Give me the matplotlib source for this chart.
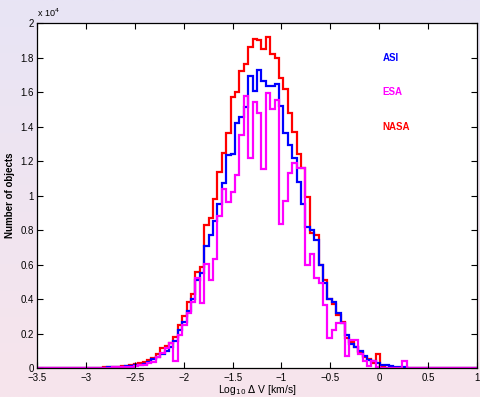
import numpy as np
import matplotlib
matplotlib.use("Agg")
import matplotlib.pyplot as plt
from matplotlib.colors import LinearSegmentedColormap

plt.rcParams['font.family'] = ['Liberation Sans', 'DejaVu Sans']

# 100 bins of log10(dV) between -3.5 and 1
edges = np.linspace(-3.5, 1.0, 101)

# counts per bin, in units of 1e4 objects
asi = [0, 0, 0, 0, 0, 0, 0, 0, 0, 0,
       0.001, 0.001, 0.002, 0.002, 0.003, 0.003, 0.004, 0.005, 0.006, 0.008,
       0.010, 0.012, 0.015, 0.020, 0.025, 0.035, 0.050, 0.065, 0.080, 0.096,
       0.119, 0.157, 0.220, 0.265, 0.330, 0.403, 0.510, 0.553, 0.710, 0.770,
       0.850, 0.950, 1.070, 1.233, 1.240, 1.418, 1.456, 1.514, 1.690, 1.605,
       1.726, 1.664, 1.634, 1.634, 1.648, 1.520, 1.360, 1.290, 1.220, 1.076,
       0.950, 0.816, 0.800, 0.740, 0.600, 0.490, 0.400, 0.380, 0.320, 0.260,
       0.190, 0.140, 0.120, 0.096, 0.070, 0.048, 0.040, 0.030, 0.020, 0.015,
       0.010, 0.008, 0.005, 0.004, 0.003, 0.002, 0.001, 0, 0, 0,
       0, 0, 0, 0, 0, 0, 0, 0, 0, 0]

esa = [0.001, 0.001, 0.001, 0.001, 0.001, 0.001, 0.001, 0.001, 0.001, 0.001,
       0.001, 0.001, 0.002, 0.002, 0.002, 0.003, 0.003, 0.004, 0.004, 0.005,
       0.005, 0.008, 0.010, 0.015, 0.020, 0.030, 0.035, 0.063, 0.086, 0.115,
       0.144, 0.038, 0.190, 0.250, 0.317, 0.384, 0.520, 0.375, 0.605, 0.510,
       0.634, 0.880, 1.040, 0.960, 1.020, 1.120, 1.349, 1.575, 1.220, 1.540,
       1.480, 1.156, 1.594, 1.500, 1.552, 0.836, 0.970, 1.133, 1.190, 1.160,
       1.160, 0.596, 0.663, 0.520, 0.490, 0.365, 0.173, 0.220, 0.260, 0.260,
       0.067, 0.163, 0.163, 0.080, 0.040, 0.010, 0.040, 0.005, 0.003, 0.003,
       0.003, 0.003, 0.003, 0.038, 0.002, 0.002, 0.002, 0.002, 0.002, 0.002,
       0.002, 0.002, 0.002, 0.002, 0.002, 0.002, 0.002, 0.002, 0.002, 0.002]

nasa = [0, 0, 0, 0, 0, 0, 0, 0, 0, 0,
        0.001, 0.001, 0.002, 0.002, 0.003, 0.004, 0.005, 0.006, 0.008, 0.010,
        0.012, 0.015, 0.025, 0.030, 0.035, 0.045, 0.058, 0.080, 0.115, 0.125,
        0.144, 0.180, 0.250, 0.300, 0.380, 0.430, 0.557, 0.586, 0.830, 0.870,
        0.980, 1.137, 1.245, 1.364, 1.570, 1.600, 1.720, 1.760, 1.860, 1.910,
        1.900, 1.850, 1.920, 1.820, 1.800, 1.680, 1.620, 1.480, 1.370, 1.240,
        1.160, 0.990, 0.780, 0.770, 0.600, 0.510, 0.400, 0.370, 0.310, 0.265,
        0.175, 0.150, 0.120, 0.090, 0.065, 0.050, 0.030, 0.080, 0.005, 0.003,
        0.002, 0.001, 0, 0, 0, 0, 0, 0, 0, 0,
        0, 0, 0, 0, 0, 0, 0, 0, 0, 0]

labels = ['ASI', 'ESA', 'NASA']
colors = ['#0000ff', '#ff00ff', '#ff0000']

fig = plt.figure(figsize=(4.8, 3.97), dpi=100)

# soft lavender-to-pink backdrop
bg = fig.add_axes([0, 0, 1, 1], zorder=0)
cmap = LinearSegmentedColormap.from_list('bg', ['#e8e4f5', '#f7e5ec'])
bg.imshow(np.linspace(0, 1, 256).reshape(-1, 1), aspect='auto', cmap=cmap,
          extent=[0, 1, 0, 1])
bg.set_axis_off()

ax = fig.add_axes([0.077, 0.073, 0.917, 0.869], zorder=1)
ax.set_facecolor('white')

for vals, c in [(nasa, colors[2]), (asi, colors[0]), (esa, colors[1])]:
    ax.stairs(np.array(vals) * 1e4, edges, color=c, lw=1.6)

ax.set_xlim(-3.5, 1)
ax.set_ylim(0, 2e4)

xt = np.arange(-3.5, 1.01, 0.5)
ax.set_xticks(xt)
ax.set_xticklabels(['%g' % v if v >= 0 else '\u2212%g' % -v for v in xt])
yt = np.arange(0, 2.01, 0.2)
ax.set_yticks(yt * 1e4)
ax.set_yticklabels(['%g' % round(v, 1) for v in yt])
ax.tick_params(direction='in', length=4, width=0.8, labelsize=7,
               top=True, right=True, pad=2)
ax.tick_params(axis='x', pad=3.5)
for s in ax.spines.values():
    s.set_linewidth(0.9)

ax.text(0.0, 1.012, r'x 10$^{4}$', transform=ax.transAxes, fontsize=6.5,
        ha='left', va='bottom')
ax.set_ylabel('Number of objects', fontsize=7, fontweight='bold', labelpad=4)
ax.set_xlabel(r'Log$_{10}$ $\Delta$ V [km/s]', fontsize=7.5, labelpad=0)

for i, (lab, c) in enumerate(zip(labels, colors)):
    ax.text(0.785, 0.9 - i * 0.1, lab, color=c, fontsize=7, fontweight='bold',
            transform=ax.transAxes, ha='left', va='center')

fig.savefig('out.png', dpi=100)
